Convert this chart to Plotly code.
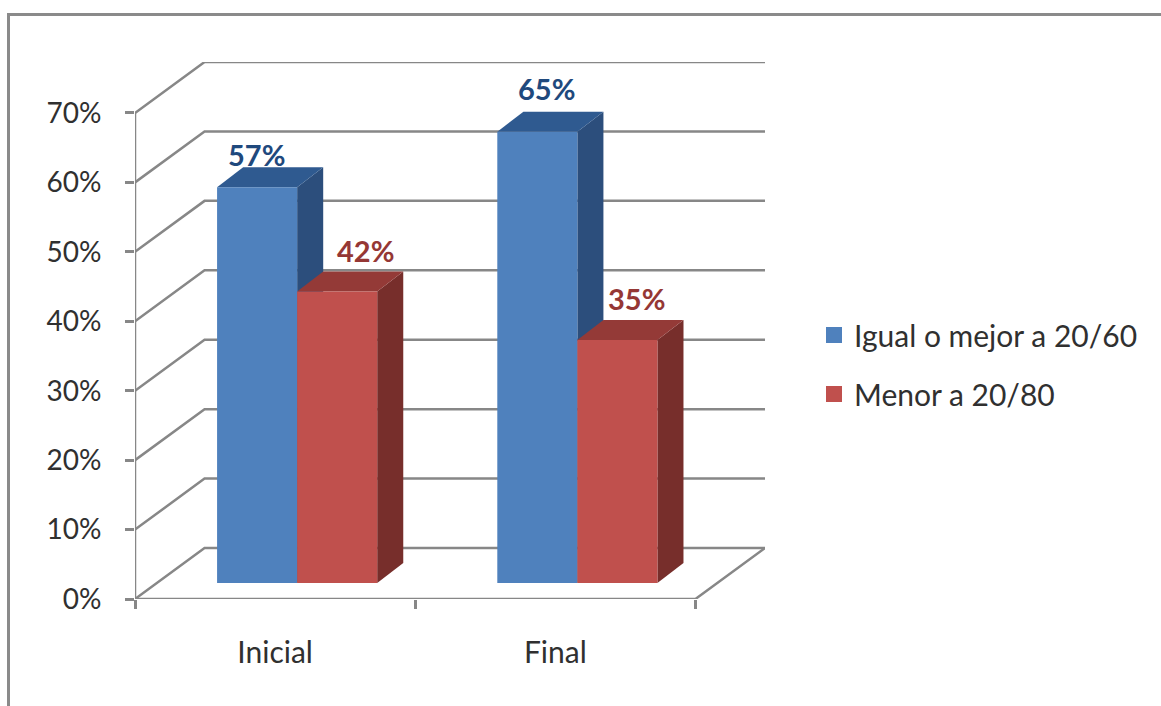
import plotly.graph_objects as go

# Chart data
categories = ["Inicial", "Final"]
series_names = ["Igual o mejor a 20/60", "Menor a 20/80"]
igual_o_mejor = [57, 65]
menor = [42, 35]
axis_ticks = [0, 10, 20, 30, 40, 50, 60, 70]

# Face colours of the extruded bars: front, top, side, label
BLUE = ("#4F81BD", "#2F5A90", "#2C4E7C", "#1F497D")
RED = ("#C0504D", "#943A37", "#772E2B", "#953735")
GREY = "#878787"
TEXT = "#303030"
FONT = "Lato, 'Open Sans', sans-serif"

# Oblique projection, in axis units
WALL_DX, WALL_DY = 0.2482, 7.34      # depth of the floor and back wall
BAR_DX, BAR_DY = 0.093, 2.88         # depth of one bar
OFFSET_DX, OFFSET_DY = 0.0786, 2.3   # front face inset from the floor's front edge
BAR_WIDTH = 0.2857

X_MAX = 2 + WALL_DX
Y_MAX = 70 + WALL_DY

# Page geometry of the plot area
M_L, M_R, M_T, M_B = 135, 396, 62, 107
W, H = 1161, 706
PLOT_W, PLOT_H = W - M_L - M_R, H - M_T - M_B

# Small hand offsets of the value labels (pixels): one list per series
LABEL_SHIFTS = [[(-1, 33), (9, 43)], [(28, 41), (19, 42)]]

fig = go.Figure()


def line(xs, ys):
    fig.add_trace(go.Scatter(
        x=xs, y=ys, mode="lines", line=dict(color=GREY, width=2.5),
        showlegend=False, hoverinfo="skip", cliponaxis=False,
    ))


def face(xs, ys, color):
    fig.add_trace(go.Scatter(
        x=xs, y=ys, mode="lines", fill="toself", fillcolor=color,
        line=dict(width=0, color=color), showlegend=False,
        hoverinfo="skip", cliponaxis=False,
    ))


# Walls and floor behind the bars
for v in axis_ticks:
    line([0, WALL_DX, X_MAX], [v, v + WALL_DY, v + WALL_DY])
line([0, 0], [0, axis_ticks[-1]])
line([0, 2, X_MAX], [0, 0, WALL_DY])

# Bars, drawn from back to front so the red front hides the blue side
for cat_index in range(len(categories)):
    for series_index, (values, colors) in enumerate(
        [(igual_o_mejor, BLUE), (menor, RED)]
    ):
        left = cat_index + 0.5 + OFFSET_DX + (series_index - 1) * BAR_WIDTH
        right = left + BAR_WIDTH
        bottom = OFFSET_DY
        top = bottom + values[cat_index]
        front, top_color, side, _ = colors
        face([right, right + BAR_DX, right + BAR_DX, right, right],
             [bottom, bottom + BAR_DY, top + BAR_DY, top, bottom], side)
        face([left, right, right + BAR_DX, left + BAR_DX, left],
             [top, top, top + BAR_DY, top + BAR_DY, top], top_color)
        face([left, right, right, left, left],
             [bottom, bottom, top, top, bottom], front)

        shift_x, shift_y = LABEL_SHIFTS[series_index][cat_index]
        fig.add_annotation(
            x=(left + right) / 2, y=top, xref="x", yref="y",
            text=f"<b>{values[cat_index]}%</b>", showarrow=False,
            xshift=shift_x, yshift=shift_y,
            font=dict(family=FONT, size=29, color=colors[3]),
        )

# Legend entries
for name, colors in zip(series_names, (BLUE, RED)):
    fig.add_trace(go.Scatter(
        x=[None], y=[None], mode="markers", name=name, legendgroup=name,
        marker=dict(symbol="square", size=16, color=colors[0]),
    ))

# Frame around the chart, open towards the page edges
to_px = lambda px: (px - M_L) / PLOT_W
to_py = lambda py: (H - M_B - py) / PLOT_H
fig.add_shape(
    type="path", xref="paper", yref="paper",
    path=f"M {to_px(8.5)} {to_py(H + 5)} L {to_px(8.5)} {to_py(14.5)} L {to_px(W + 5)} {to_py(14.5)}",
    line=dict(color="#8A8A8A", width=3),
)

fig.update_layout(
    width=W, height=H,
    margin=dict(l=M_L, r=M_R, t=M_T, b=M_B, pad=0),
    paper_bgcolor="white", plot_bgcolor="white",
    showlegend=True,
    legend=dict(
        x=to_px(814), y=to_py(309), xanchor="left", yanchor="top",
        font=dict(family=FONT, size=30, color=TEXT),
        itemsizing="trace", traceorder="grouped", tracegroupgap=17,
        bgcolor="rgba(0,0,0,0)",
    ),
    xaxis=dict(
        range=[0, X_MAX], showgrid=False, zeroline=False, showline=False,
        tickmode="array", tickvals=[0.5, 1.5], ticktext=categories,
        ticks="outside", ticklen=27, tickcolor="rgba(0,0,0,0)",
        tickfont=dict(family=FONT, size=30, color=TEXT),
        minor=dict(tickmode="array", tickvals=[0, 1, 2], ticks="outside",
                   ticklen=9, tickcolor=GREY, tickwidth=2.5),
    ),
    yaxis=dict(
        range=[0, Y_MAX], showgrid=False, zeroline=False, showline=False,
        tickmode="array", tickvals=axis_ticks,
        ticktext=[f"{v}%" for v in axis_ticks],
        ticks="outside", ticklen=9, tickcolor=GREY, tickwidth=2.5,
        ticklabelstandoff=18,
        tickfont=dict(family=FONT, size=28, color=TEXT),
    ),
)

fig.write_html("out.html")
